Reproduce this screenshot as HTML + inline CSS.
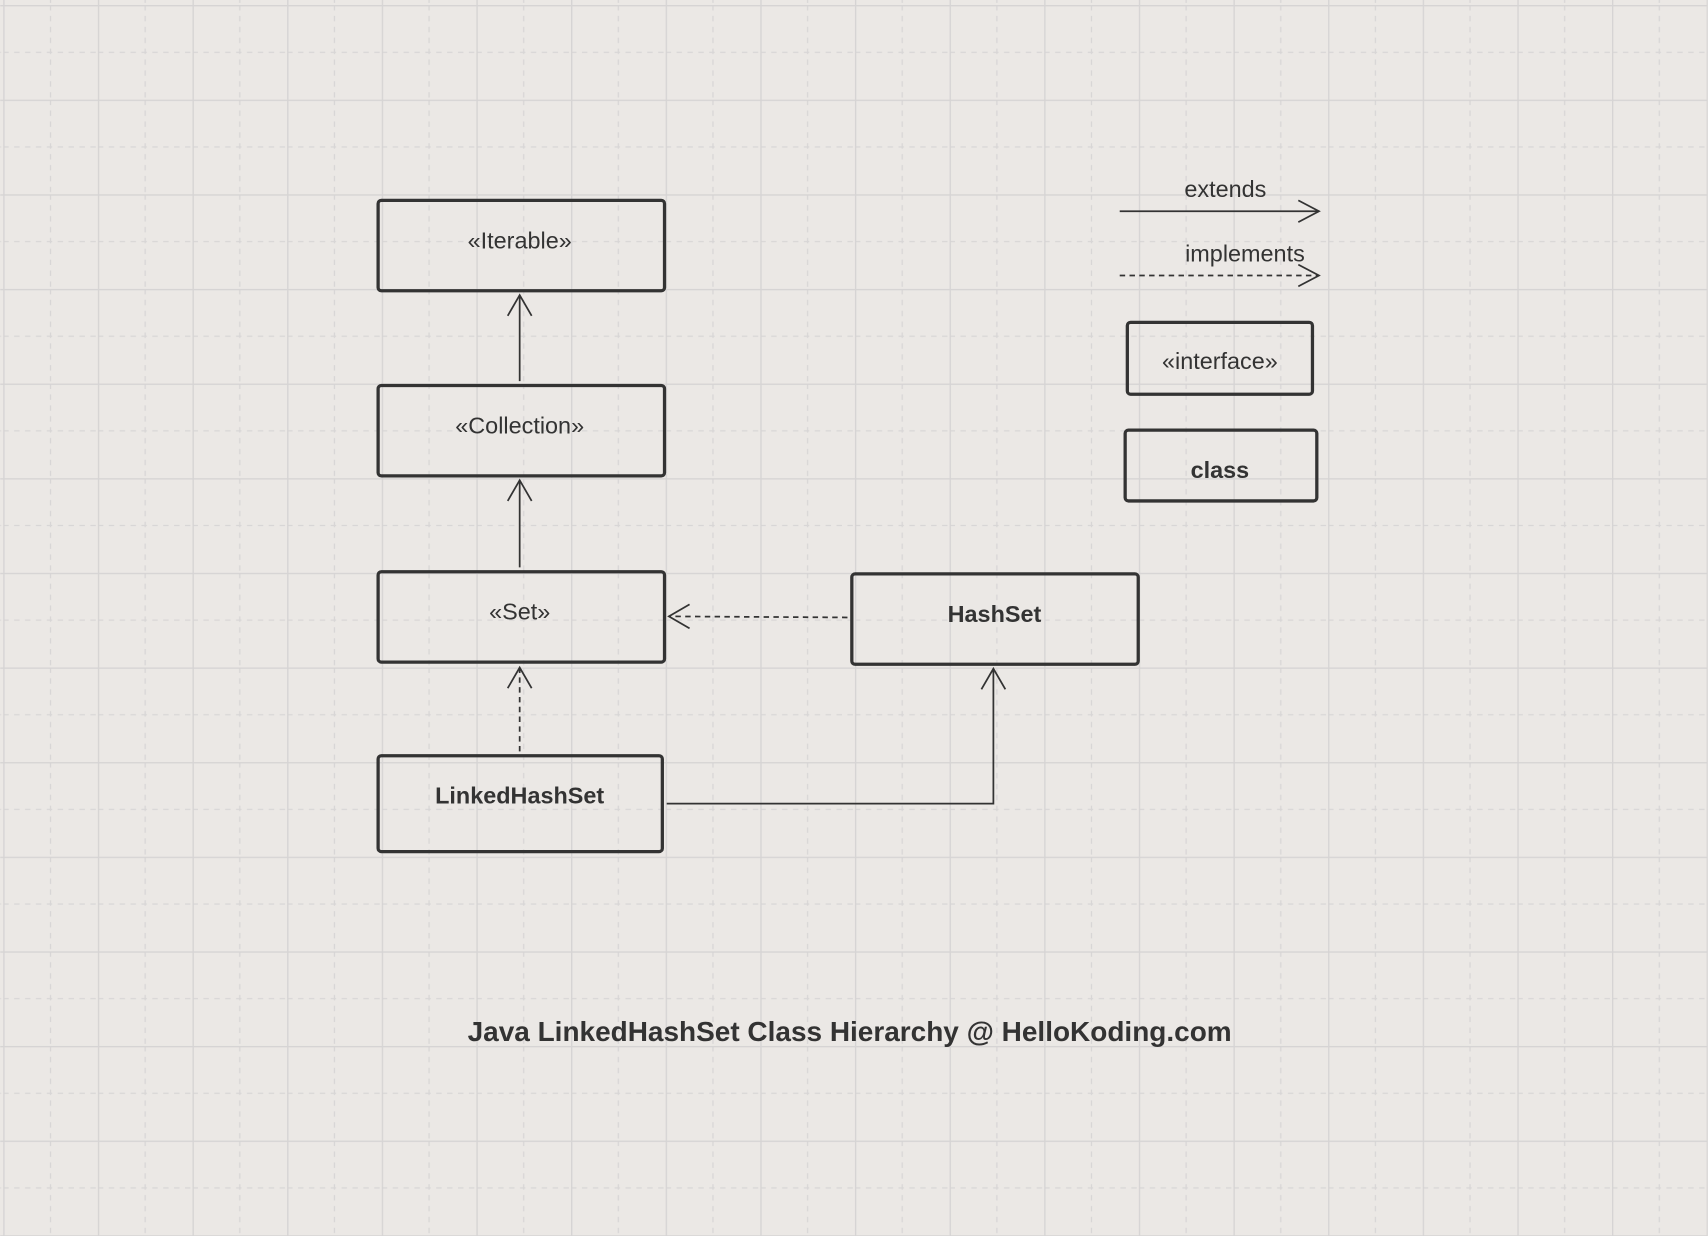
<!DOCTYPE html>
<html><head><meta charset="utf-8"><style>
html,body{margin:0;padding:0;background:#ebe8e5;}
svg{display:block;}
text{font-family:"Liberation Sans",Arial,sans-serif;fill:#333;}
</style></head><body>
<svg width="1708" height="1236" viewBox="0 0 1568 1135" xmlns="http://www.w3.org/2000/svg">
<defs>
<pattern id="g" x="2.75" y="4.6" width="86.9" height="86.9" patternUnits="userSpaceOnUse">
<line x1="43.45" y1="0" x2="43.45" y2="86.9" stroke="#d8d6d6" stroke-width="1.2" stroke-dasharray="5,5"/>
<line x1="0" y1="43.45" x2="86.9" y2="43.45" stroke="#d8d6d6" stroke-width="1.2" stroke-dasharray="5,5"/>
<line x1="0.6" y1="0" x2="0.6" y2="86.9" stroke="#d6d4d4" stroke-width="1.3"/>
<line x1="0" y1="0.6" x2="86.9" y2="0.6" stroke="#d6d4d4" stroke-width="1.3"/>
</pattern>
</defs>
<rect width="1568" height="1135" fill="#ebe8e5"/>
<rect width="1568" height="1135" fill="url(#g)"/>
<g fill="none" stroke="#333" stroke-width="3">
<rect x="347" y="184" width="263" height="83" rx="3"/>
<rect x="347" y="354" width="263" height="83" rx="3"/>
<rect x="347" y="525" width="263" height="83" rx="3"/>
<rect x="347" y="694" width="261" height="88" rx="3"/>
<rect x="782" y="527" width="263" height="83" rx="3"/>
<rect x="1035" y="296" width="170" height="66" rx="3"/>
<rect x="1033" y="395" width="176" height="65" rx="3"/>
</g>
<g fill="none" stroke="#333" stroke-width="1.6">
<line x1="477" y1="350" x2="477" y2="271"/>
<polyline points="466,290 477,271 488,290"/>
<line x1="477" y1="521" x2="477" y2="441"/>
<polyline points="466,460 477,441 488,460"/>
<line x1="477" y1="690" x2="477" y2="613" stroke-dasharray="5,4"/>
<polyline points="466,632 477,613 488,632"/>
<line x1="778" y1="567" x2="614" y2="566" stroke-dasharray="5,4"/>
<polyline points="633,555 614,566 633,577"/>
<polyline points="612,738 912,738 912,614"/>
<polyline points="901,633 912,614 923,633"/>
<line x1="1028" y1="194" x2="1211" y2="194"/>
<polyline points="1192,184 1211,194 1192,204"/>
<line x1="1028" y1="253" x2="1211" y2="253" stroke-dasharray="5,4"/>
<polyline points="1192,243 1211,253 1192,263"/>
</g>
<g font-size="21.5" text-anchor="middle">
<text x="477" y="228">«Iterable»</text>
<text x="477" y="398">«Collection»</text>
<text x="477" y="569">«Set»</text>
<text x="477" y="738" font-weight="bold">LinkedHashSet</text>
<text x="913" y="571" font-weight="bold">HashSet</text>
<text x="1120" y="339">«interface»</text>
<text x="1120" y="439" font-weight="bold">class</text>
<text x="1125" y="181">extends</text>
<text x="1143" y="240">implements</text>
<text x="780" y="956" font-size="25.7" font-weight="bold">Java LinkedHashSet Class Hierarchy @ HelloKoding.com</text>
</g>
</svg>
</body></html>
